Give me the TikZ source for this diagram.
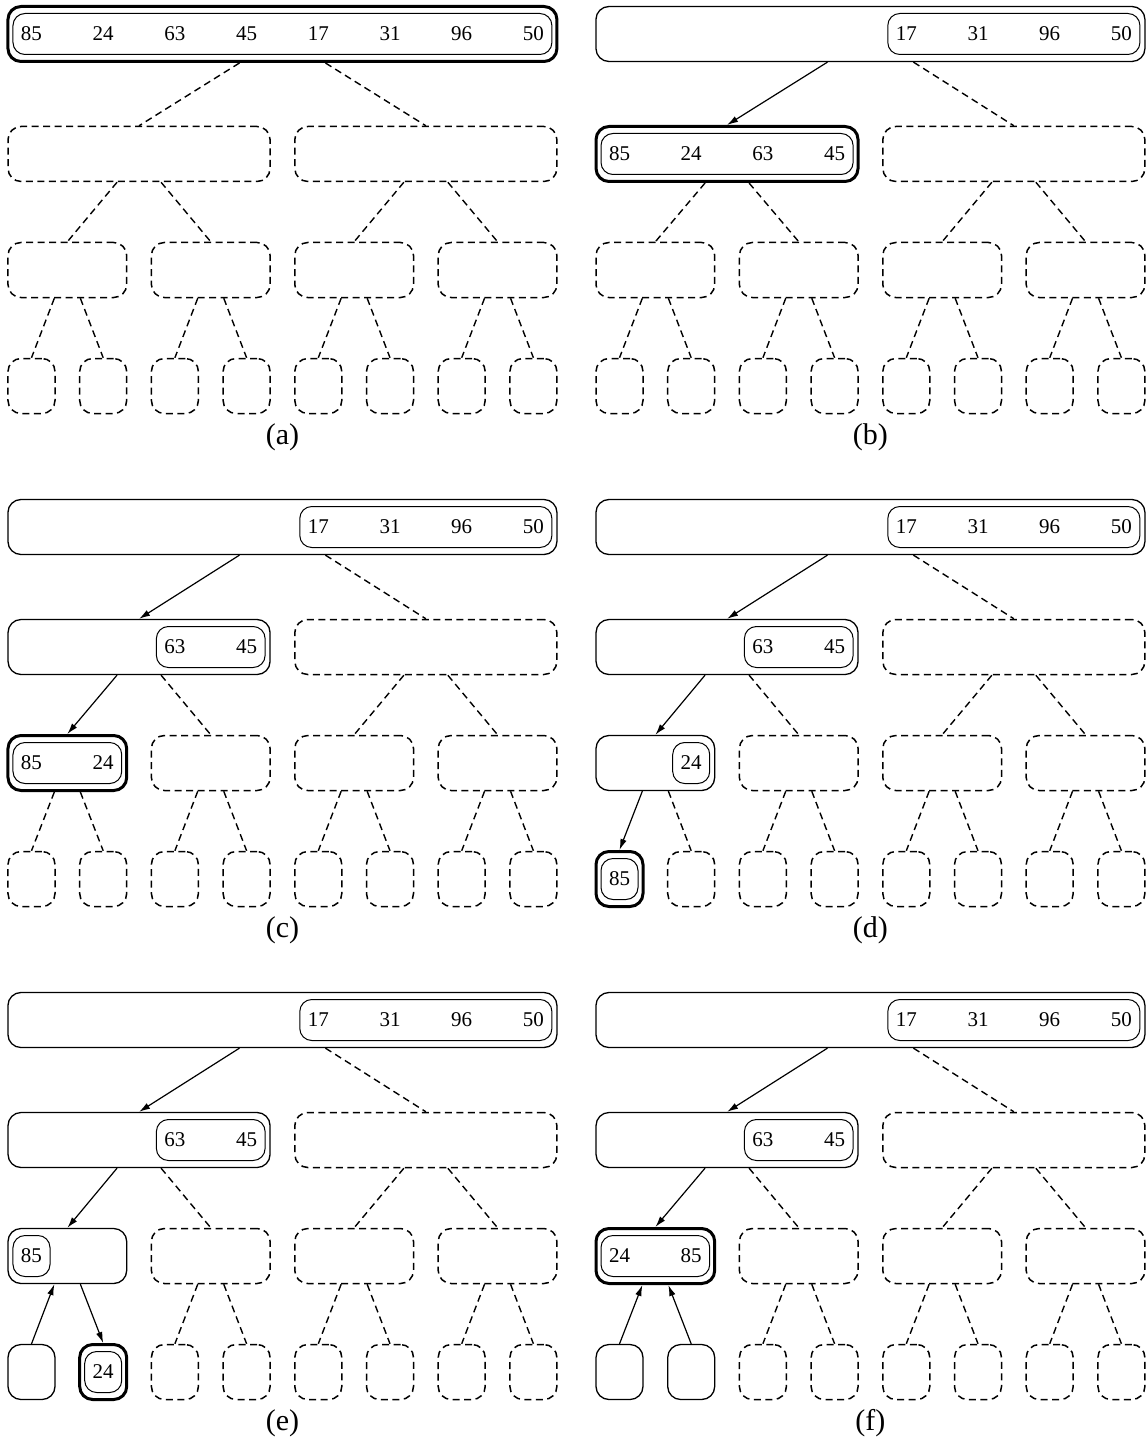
\documentclass[tikz,border=0pt]{standalone}
\usepackage{fontspec}
\setmainfont{Liberation Serif}
\usetikzlibrary{arrows.meta}

% fixed part of every panel: dashed cells and links that never change
\newcommand{\treeskel}[1]{%
  \node[hole, halfw] (#1-2-2) at (5.5,154) {};
  \foreach \j/\x in {2/2.5, 3/4.5, 4/6.5}
    \node[hole, quarterw] (#1-3-\j) at (\x,270) {};
  \foreach \k in {3,...,8}
    \node[hole, leafw] (#1-4-\k) at (\k-1,386) {};
  \draw[tie] ([xshift=43pt]#1-1.south) -- (#1-2-2.north);
  \draw[tie] ([xshift=22pt]#1-2-1.south) -- (#1-3-2.north);
  \draw[tie] ([xshift=-22pt]#1-2-2.south) -- (#1-3-3.north);
  \draw[tie] ([xshift=22pt]#1-2-2.south) -- (#1-3-4.north);
  \foreach \j/\a/\b in {2/3/4, 3/5/6, 4/7/8} {
    \draw[tie] ([xshift=-13pt]#1-3-\j.south) -- (#1-4-\a.north);
    \draw[tie] ([xshift=13pt]#1-3-\j.south) -- (#1-4-\b.north);
  }
}

% inner box with its numbers: name, y, first column, last column, values
\newcommand{\numrow}[5]{%
  \node[seqbox, minimum width={(#4-#3)*71.7pt+37pt}] (#1) at ({(#3+#4)/2},#2) {};
  \foreach \v [count=\k from #3] in {#5}
    \node[num] (#1-\k) at (\k,#2) {\v};
}

\begin{document}
\begin{tikzpicture}[x={(71.7pt,0)}, y={(0,-1pt)},
  cell/.style={rectangle, rounded corners=13pt, minimum height=55pt, inner sep=0pt},
  hole/.style={cell, draw, dash pattern=on 7pt off 4.5pt, line width=1.5pt},
  usedbox/.style={cell, draw, line width=1.3pt},
  activebox/.style={cell, draw, line width=3pt},
  rootw/.style={minimum width=549pt},
  halfw/.style={minimum width=262pt},
  quarterw/.style={minimum width=118.7pt},
  leafw/.style={minimum width=47pt},
  seqbox/.style={draw, rectangle, rounded corners=12pt, minimum height=41pt, inner sep=0pt, line width=1pt},
  num/.style={inner sep=0pt, font=\fontsize{21pt}{25pt}\selectfont},
  tag/.style={inner sep=0pt, font=\fontsize{30pt}{36pt}\selectfont},
  tie/.style={dash pattern=on 7pt off 4.5pt, line width=1.4pt},
  go/.style={-{Latex[length=11pt,width=6.5pt]}, line width=1.2pt}]
  \useasboundingbox (-31.5pt,0pt) rectangle (1113.5pt,-1439pt);

  % (a)
  \begin{scope}
    \node[activebox, rootw] (a-1) at (3.5,34) {};
    \numrow{a-s1}{34}{0}{7}{85,24,63,45,17,31,96,50}
    \node[hole, halfw] (a-2-1) at (1.5,154) {};
    \node[hole, quarterw] (a-3-1) at (0.5,270) {};
    \node[hole, leafw] (a-4-1) at (0,386) {};
    \node[hole, leafw] (a-4-2) at (1,386) {};
    \treeskel{a}
    \draw[tie] ([xshift=-43pt]a-1.south) -- (a-2-1.north);
    \draw[tie] ([xshift=-22pt]a-2-1.south) -- (a-3-1.north);
    \draw[tie] ([xshift=-13pt]a-3-1.south) -- (a-4-1.north);
    \draw[tie] ([xshift=13pt]a-3-1.south) -- (a-4-2.north);
    \node[tag] (a-tag) at (3.5,437) {(a)};
  \end{scope}

  % (b)
  \begin{scope}[xshift=588pt]
    \node[usedbox, rootw] (b-1) at (3.5,34) {};
    \numrow{b-s1}{34}{4}{7}{17,31,96,50}
    \node[activebox, halfw] (b-2-1) at (1.5,154) {};
    \numrow{b-s2}{154}{0}{3}{85,24,63,45}
    \node[hole, quarterw] (b-3-1) at (0.5,270) {};
    \node[hole, leafw] (b-4-1) at (0,386) {};
    \node[hole, leafw] (b-4-2) at (1,386) {};
    \treeskel{b}
    \draw[go] ([xshift=-43pt]b-1.south) -- (b-2-1.north);
    \draw[tie] ([xshift=-22pt]b-2-1.south) -- (b-3-1.north);
    \draw[tie] ([xshift=-13pt]b-3-1.south) -- (b-4-1.north);
    \draw[tie] ([xshift=13pt]b-3-1.south) -- (b-4-2.north);
    \node[tag] (b-tag) at (3.5,437) {(b)};
  \end{scope}

  % (c)
  \begin{scope}[yshift=-493pt]
    \node[usedbox, rootw] (c-1) at (3.5,34) {};
    \numrow{c-s1}{34}{4}{7}{17,31,96,50}
    \node[usedbox, halfw] (c-2-1) at (1.5,154) {};
    \numrow{c-s2}{154}{2}{3}{63,45}
    \node[activebox, quarterw] (c-3-1) at (0.5,270) {};
    \numrow{c-s3}{270}{0}{1}{85,24}
    \node[hole, leafw] (c-4-1) at (0,386) {};
    \node[hole, leafw] (c-4-2) at (1,386) {};
    \treeskel{c}
    \draw[go] ([xshift=-43pt]c-1.south) -- (c-2-1.north);
    \draw[go] ([xshift=-22pt]c-2-1.south) -- (c-3-1.north);
    \draw[tie] ([xshift=-13pt]c-3-1.south) -- (c-4-1.north);
    \draw[tie] ([xshift=13pt]c-3-1.south) -- (c-4-2.north);
    \node[tag] (c-tag) at (3.5,437) {(c)};
  \end{scope}

  % (d)
  \begin{scope}[xshift=588pt, yshift=-493pt]
    \node[usedbox, rootw] (d-1) at (3.5,34) {};
    \numrow{d-s1}{34}{4}{7}{17,31,96,50}
    \node[usedbox, halfw] (d-2-1) at (1.5,154) {};
    \numrow{d-s2}{154}{2}{3}{63,45}
    \node[usedbox, quarterw] (d-3-1) at (0.5,270) {};
    \numrow{d-s3}{270}{1}{1}{24}
    \node[activebox, leafw] (d-4-1) at (0,386) {};
    \numrow{d-s4}{386}{0}{0}{85}
    \node[hole, leafw] (d-4-2) at (1,386) {};
    \treeskel{d}
    \draw[go] ([xshift=-43pt]d-1.south) -- (d-2-1.north);
    \draw[go] ([xshift=-22pt]d-2-1.south) -- (d-3-1.north);
    \draw[go] ([xshift=-13pt]d-3-1.south) -- (d-4-1.north);
    \draw[tie] ([xshift=13pt]d-3-1.south) -- (d-4-2.north);
    \node[tag] (d-tag) at (3.5,437) {(d)};
  \end{scope}

  % (e)
  \begin{scope}[yshift=-986pt]
    \node[usedbox, rootw] (e-1) at (3.5,34) {};
    \numrow{e-s1}{34}{4}{7}{17,31,96,50}
    \node[usedbox, halfw] (e-2-1) at (1.5,154) {};
    \numrow{e-s2}{154}{2}{3}{63,45}
    \node[usedbox, quarterw] (e-3-1) at (0.5,270) {};
    \numrow{e-s3}{270}{0}{0}{85}
    \node[usedbox, leafw] (e-4-1) at (0,386) {};
    \node[activebox, leafw] (e-4-2) at (1,386) {};
    \numrow{e-s4}{386}{1}{1}{24}
    \treeskel{e}
    \draw[go] ([xshift=-43pt]e-1.south) -- (e-2-1.north);
    \draw[go] ([xshift=-22pt]e-2-1.south) -- (e-3-1.north);
    \draw[go] (e-4-1.north) -- ([xshift=-13pt]e-3-1.south);
    \draw[go] ([xshift=13pt]e-3-1.south) -- (e-4-2.north);
    \node[tag] (e-tag) at (3.5,437) {(e)};
  \end{scope}

  % (f)
  \begin{scope}[xshift=588pt, yshift=-986pt]
    \node[usedbox, rootw] (f-1) at (3.5,34) {};
    \numrow{f-s1}{34}{4}{7}{17,31,96,50}
    \node[usedbox, halfw] (f-2-1) at (1.5,154) {};
    \numrow{f-s2}{154}{2}{3}{63,45}
    \node[activebox, quarterw] (f-3-1) at (0.5,270) {};
    \numrow{f-s3}{270}{0}{1}{24,85}
    \node[usedbox, leafw] (f-4-1) at (0,386) {};
    \node[usedbox, leafw] (f-4-2) at (1,386) {};
    \treeskel{f}
    \draw[go] ([xshift=-43pt]f-1.south) -- (f-2-1.north);
    \draw[go] ([xshift=-22pt]f-2-1.south) -- (f-3-1.north);
    \draw[go] (f-4-1.north) -- ([xshift=-13pt]f-3-1.south);
    \draw[go] (f-4-2.north) -- ([xshift=13pt]f-3-1.south);
    \node[tag] (f-tag) at (3.5,437) {(f)};
  \end{scope}
\end{tikzpicture}
\end{document}
